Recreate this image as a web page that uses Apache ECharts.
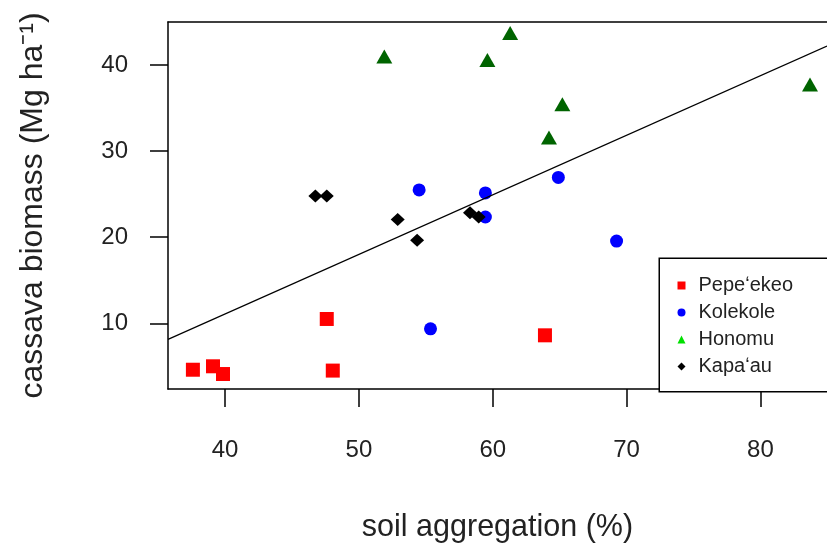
<!DOCTYPE html>
<html>
<head>
<meta charset="utf-8">
<script src="https://cdn.jsdelivr.net/npm/echarts@6/dist/echarts.min.js"></script>
<style>
  html, body { margin: 0; padding: 0; background: #fff; }
  #chart { width: 827px; height: 548px; }
</style>
</head>
<body>
<div id="chart"></div>
<script>
// values
var pepeX = [37.6, 39.1, 39.85, 47.6, 48.05, 63.9];
var pepeY = [4.6, 5.0, 4.1, 10.5, 4.5, 8.6];
var koleX = [54.5, 59.45, 59.45, 55.35, 64.9, 69.25];
var koleY = [25.5, 25.15, 22.35, 9.35, 26.95, 19.55];
var honoX = [51.9, 59.6, 61.3, 65.2, 64.2, 83.7];
var honoY = [41.0, 40.6, 43.75, 35.45, 31.6, 37.75];
var kapaX = [46.75, 47.6, 52.9, 54.35, 58.3, 58.95];
var kapaY = [24.8, 24.8, 22.05, 19.65, 22.85, 22.35];
var fitSlope = 0.6927, fitIntercept = -16.63;
var xTicks = [40, 50, 60, 70, 80];
var yTicks = [10, 20, 30, 40];
// the plot is cut off on the right, so xMax is the value at the image edge
var xMin = 35.74, xMax = 84.97, yMin = 2.36, yMax = 45.02;

var font = "'Liberation Sans', Arial, sans-serif";

function pairs(xs, ys) {
  return xs.map(function (x, i) { return [x, ys[i]]; });
}

var chart = echarts.init(document.getElementById('chart'));
chart.setOption({
  animation: false,
  textStyle: { fontFamily: font },
  grid: { left: 168, top: 22, right: 0, bottom: 157, show: false },
  xAxis: [{
    type: 'value', min: xMin, max: xMax,
    name: 'soil aggregation (%)', nameLocation: 'middle', nameGap: 123,
    nameTextStyle: { fontSize: 30.5, color: '#222', fontFamily: font },
    axisLine: { show: true, onZero: false, lineStyle: { color: '#000', width: 1.5 } },
    splitLine: { show: false },
    axisTick: { show: true, length: 18, lineStyle: { color: '#000', width: 1.5 }, customValues: xTicks },
    axisLabel: { fontSize: 24, color: '#222', margin: 49, customValues: xTicks, fontFamily: font }
  }, {
    // top border of the box
    type: 'value', position: 'top', min: xMin, max: xMax,
    axisLine: { show: true, onZero: false, lineStyle: { color: '#000', width: 1.5 } },
    axisTick: { show: false }, axisLabel: { show: false }, splitLine: { show: false }
  }],
  yAxis: {
    type: 'value', min: yMin, max: yMax,
    name: 'cassava biomass (Mg ha\u207B\u00B9)', nameLocation: 'middle', nameGap: 119,
    nameTextStyle: { fontSize: 32, color: '#222', fontFamily: font },
    axisLine: { show: true, onZero: false, lineStyle: { color: '#000', width: 1.5 } },
    splitLine: { show: false },
    axisTick: { show: true, length: 18, lineStyle: { color: '#000', width: 1.5 }, customValues: yTicks },
    axisLabel: { fontSize: 24, color: '#222', margin: 40, customValues: yTicks, fontFamily: font }
  },
  legend: {
    orient: 'vertical', left: 677.5, top: 272, padding: 0,
    itemWidth: 8, itemHeight: 8, itemGap: 0,
    textStyle: { fontSize: 20, color: '#222', lineHeight: 21, padding: [6, 0, 0, 8], fontFamily: font },
    data: [
      { name: 'Pepe\u02BBekeo', icon: 'rect', itemStyle: { color: '#f00' } },
      { name: 'Kolekole', icon: 'circle', itemStyle: { color: '#00f' } },
      { name: 'Honomu', icon: 'triangle', itemStyle: { color: '#00e000' } },
      { name: 'Kapa\u02BBau', icon: 'diamond', itemStyle: { color: '#000' } }
    ],
    z: 10
  },
  graphic: [{
    type: 'rect', left: 658.5, top: 257.5, z: 5,
    shape: { width: 200, height: 133.5 },
    style: { fill: '#fff', stroke: '#000', lineWidth: 1.5 }
  }],
  series: [
    { name: 'Pepe\u02BBekeo', type: 'scatter', symbol: 'rect', symbolSize: 14,
      itemStyle: { color: '#f00', opacity: 1 }, data: pairs(pepeX, pepeY) },
    { name: 'Kolekole', type: 'scatter', symbol: 'circle', symbolSize: 13,
      itemStyle: { color: '#00f', opacity: 1 }, data: pairs(koleX, koleY) },
    { name: 'Honomu', type: 'scatter', symbol: 'triangle', symbolSize: [16, 14],
      itemStyle: { color: '#006400', opacity: 1 }, data: pairs(honoX, honoY) },
    { name: 'Kapa\u02BBau', type: 'scatter', symbol: 'diamond', symbolSize: [14, 13],
      itemStyle: { color: '#000', opacity: 1 }, data: pairs(kapaX, kapaY) },
    { name: 'fit', type: 'line', symbol: 'none', silent: true, z: 3,
      lineStyle: { color: '#000', width: 1.2 },
      data: [[xMin, fitIntercept + fitSlope * xMin], [xMax, fitIntercept + fitSlope * xMax]] }
  ]
});
</script>
</body>
</html>
